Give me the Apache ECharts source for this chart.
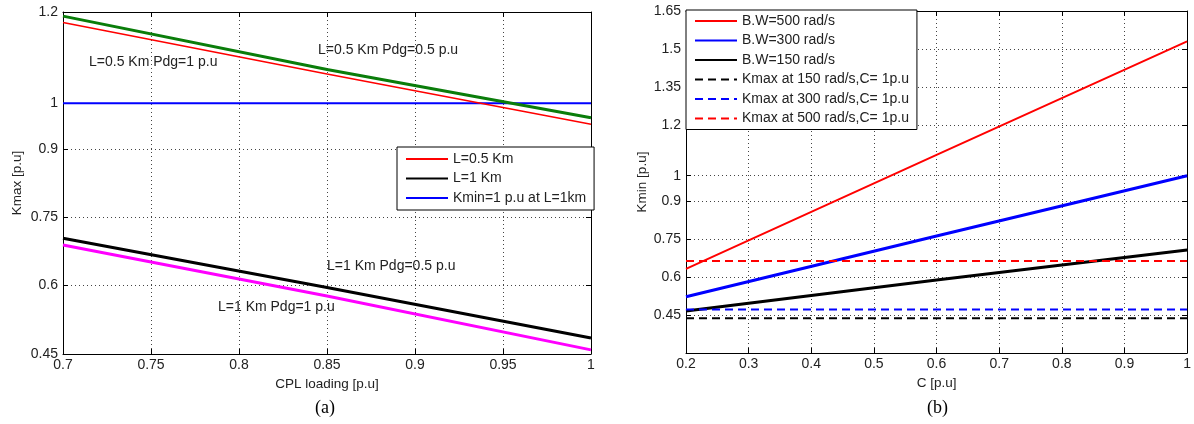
<!DOCTYPE html>
<html>
<head>
<meta charset="utf-8">
<script src="https://cdn.jsdelivr.net/npm/echarts@6/dist/echarts.min.js"></script>
<style>
  html, body { margin: 0; padding: 0; background: #fff; }
  #chart { width: 1194px; height: 424px; }
</style>
</head>
<body>
<div id="chart"></div>
<script>
// (a) Kmax vs CPL loading
const cplLoading = [0.7, 0.85, 1.0]
const kmaxHalfKmPdgHalf = [1.191, 1.074, 0.968]  // green
const kmaxHalfKmPdgOne = [1.177, 1.064, 0.954]   // red
const kmaxOneKmPdgHalf = [0.704, 0.596, 0.485]   // black
const kmaxOneKmPdgOne = [0.689, 0.577, 0.459]    // magenta
const kminLimit = [1, 1, 1]                      // blue
const ticksA = [0.45, 0.6, 0.75, 0.9, 1, 1.2]

// (b) Kmin vs C
const cValues = [0.2, 0.6, 1.0]
const bw500 = [0.632, 1.082, 1.53]
const bw300 = [0.522, 0.762, 1.0]
const bw150 = [0.466, 0.588, 0.707]
const kmax150 = [0.437, 0.437, 0.437]
const kmax300 = [0.472, 0.472, 0.472]
const kmax500 = [0.663, 0.663, 0.663]
const ticksB = [0.45, 0.6, 0.75, 0.9, 1, 1.2, 1.35, 1.5, 1.65]

const FONT = 'Liberation Sans'
const TXT = '#222'

const pairs = (xs, ys) => xs.map((x, i) => [x, ys[i]])

function xAx (grid, min, max, interval, name, gap, top) {
  return {
    type: 'value', gridIndex: grid, min, max, interval,
    position: top ? 'top' : 'bottom',
    name: top ? '' : name, nameLocation: 'middle', nameGap: gap,
    nameTextStyle: { fontFamily: FONT, fontSize: 13.5, color: TXT },
    axisLine: { show: true, onZero: false, lineStyle: { color: '#000', width: 1 } },
    axisTick: { show: true, inside: true, length: 5, lineStyle: { color: '#000' } },
    axisLabel: { show: !top, margin: 4, fontFamily: FONT, fontSize: 14, color: TXT },
    splitLine: { show: !top, lineStyle: { color: '#444', type: [1, 3], width: 1 } }
  }
}

function yAx (grid, min, max, ticks, name, gap, right) {
  return {
    type: 'value', gridIndex: grid, min, max,
    position: right ? 'right' : 'left',
    name: right ? '' : name, nameLocation: 'middle', nameGap: gap,
    nameTextStyle: { fontFamily: FONT, fontSize: 13.5, color: TXT },
    axisLine: { show: true, onZero: false, lineStyle: { color: '#000', width: 1 } },
    axisTick: { show: true, inside: true, length: 5, customValues: ticks, lineStyle: { color: '#000' } },
    axisLabel: { show: !right, margin: 5, customValues: ticks, fontFamily: FONT, fontSize: 14, color: TXT },
    splitLine: { show: !right, lineStyle: { color: '#444', type: [1, 3], width: 1 } }
  }
}

function line (name, xi, xs, ys, color, width, dashed) {
  return {
    name, type: 'line', xAxisIndex: xi, yAxisIndex: xi,
    data: pairs(xs, ys), symbol: 'none', silent: true,
    lineStyle: { color, width, type: dashed ? [8, 5] : 'solid' },
    itemStyle: { color }
  }
}

const legendBase = {
  orient: 'vertical', itemWidth: 42, itemHeight: 14, itemGap: 5.5,
  backgroundColor: '#fff', borderColor: '#000', borderWidth: 1, borderRadius: 0,
  textStyle: { fontFamily: FONT, fontSize: 14, color: TXT, lineHeight: 14 },
  itemStyle: { opacity: 0 },
  selectedMode: false
}

const chart = echarts.init(document.getElementById('chart'))
chart.setOption({
  animation: false,
  backgroundColor: '#fff',
  grid: [
    { left: 63, right: 603, top: 12, bottom: 70 },
    { left: 686, right: 5, top: 11, bottom: 71 }
  ],
  xAxis: [
    xAx(0, 0.7, 1.0, 0.05, 'CPL loading [p.u]', 22, false),
    xAx(1, 0.2, 1.0, 0.1, 'C [p.u]', 23, false),
    xAx(0, 0.7, 1.0, 0.05, '', 0, true),
    xAx(1, 0.2, 1.0, 0.1, '', 0, true)
  ],
  yAxis: [
    yAx(0, 0.45, 1.2, ticksA, 'Kmax [p.u]', 39, false),
    yAx(1, 0.3, 1.65, ticksB, 'Kmin [p.u]', 37, false),
    yAx(0, 0.45, 1.2, ticksA, '', 0, true),
    yAx(1, 0.3, 1.65, ticksB, '', 0, true)
  ],
  legend: [
    Object.assign({}, legendBase, {
      left: 397, top: 147, padding: [5, 8, 5, 8],
      data: ['L=0.5 Km', 'L=1 Km', 'Kmin=1 p.u at L=1km']
    }),
    Object.assign({}, legendBase, {
      left: 686, top: 10, padding: [4, 8, 4, 8],
      data: ['B.W=500 rad/s', 'B.W=300 rad/s', 'B.W=150 rad/s',
        'Kmax at 150 rad/s,C= 1p.u', 'Kmax at 300 rad/s,C= 1p.u', 'Kmax at 500 rad/s,C= 1p.u']
    })
  ],
  series: [
    line('Kmin=1 p.u at L=1km', 0, cplLoading, kminLimit, '#0000ff', 2),
    line('L=0.5 Km Pdg=0.5', 0, cplLoading, kmaxHalfKmPdgHalf, '#0a7d0a', 3),
    line('L=0.5 Km', 0, cplLoading, kmaxHalfKmPdgOne, '#ff0000', 1.6),
    line('L=1 Km Pdg=1', 0, cplLoading, kmaxOneKmPdgOne, '#ff00ff', 3),
    line('L=1 Km', 0, cplLoading, kmaxOneKmPdgHalf, '#000000', 3),

    line('B.W=500 rad/s', 1, cValues, bw500, '#ff0000', 2),
    line('B.W=300 rad/s', 1, cValues, bw300, '#0000ff', 3),
    line('B.W=150 rad/s', 1, cValues, bw150, '#000000', 3),
    line('Kmax at 150 rad/s,C= 1p.u', 1, cValues, kmax150, '#000000', 2, true),
    line('Kmax at 300 rad/s,C= 1p.u', 1, cValues, kmax300, '#0000ff', 2, true),
    line('Kmax at 500 rad/s,C= 1p.u', 1, cValues, kmax500, '#ff0000', 2, true)
  ],
  graphic: [
    { type: 'text', left: 89, top: 55, style: { text: 'L=0.5 Km Pdg=1 p.u', font: '14px "Liberation Sans"', fill: TXT } },
    { type: 'text', left: 318, top: 43, style: { text: 'L=0.5 Km Pdg=0.5 p.u', font: '14px "Liberation Sans"', fill: TXT } },
    { type: 'text', left: 327, top: 259, style: { text: 'L=1 Km Pdg=0.5 p.u', font: '14px "Liberation Sans"', fill: TXT } },
    { type: 'text', left: 218, top: 300, style: { text: 'L=1 Km Pdg=1 p.u', font: '14px "Liberation Sans"', fill: TXT } },
    { type: 'text', left: 315, top: 399, style: { text: '(a)', font: '18px "Liberation Serif"', fill: '#000' } },
    { type: 'text', left: 927, top: 399, style: { text: '(b)', font: '18px "Liberation Serif"', fill: '#000' } }
  ]
})
</script>
</body>
</html>
